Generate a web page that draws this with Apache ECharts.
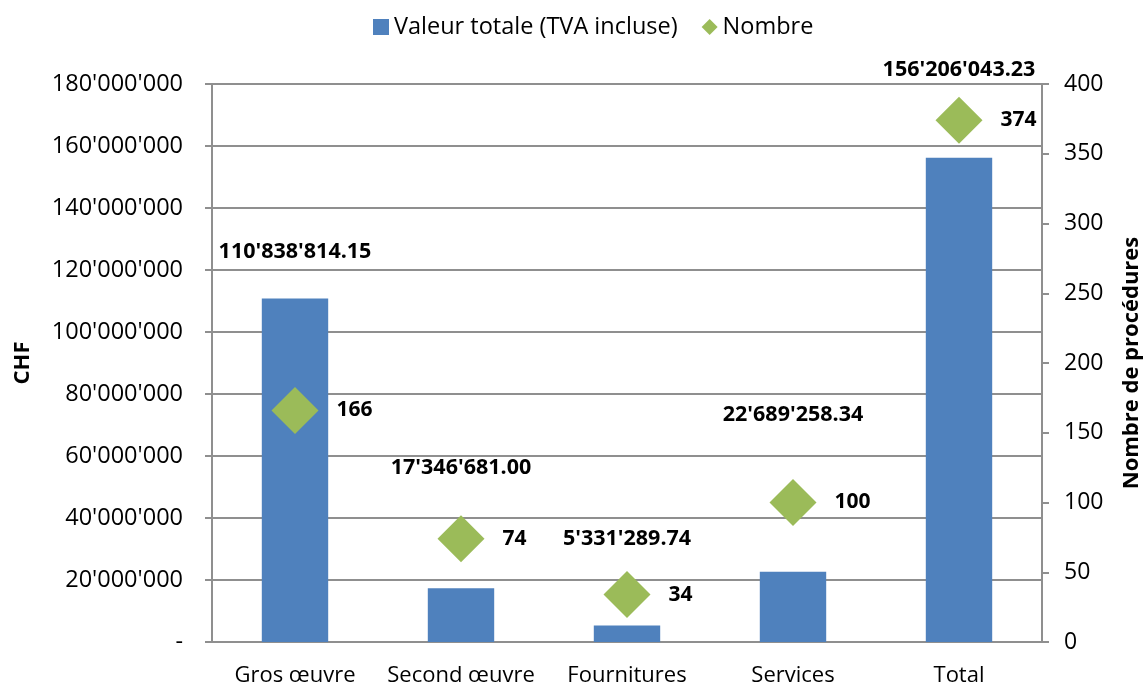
<!DOCTYPE html>
<html>
<head>
<meta charset="utf-8">
<script src="https://cdn.jsdelivr.net/npm/echarts@6/dist/echarts.min.js"></script>
<style>
  html, body { margin: 0; padding: 0; background: #fff; }
  #chart { width: 1145px; height: 686px; }
</style>
</head>
<body>
<div id="chart"></div>
<script>
// données
var categories = ['Gros œuvre', 'Second œuvre', 'Fournitures', 'Services', 'Total'];
var valeurs = [110838814.15, 17346681.00, 5331289.74, 22689258.34, 156206043.23];
var nombres = [166, 74, 34, 100, 374];

// écart des étiquettes au-dessus des barres (placées à la main dans l'original)
var labelDistance = [36, 109, 76, 146, 77];

function apostrophes(n, dec) {
  var parts = n.toFixed(dec).split('.');
  parts[0] = parts[0].replace(/\B(?=(\d{3})+(?!\d))/g, "'");
  return parts.join('.');
}

var font = 'Open Sans';
var gris = '#8f8f8f';

var chart = echarts.init(document.getElementById('chart'));

var option = {
  animation: false,
  textStyle: { fontFamily: font, color: '#000' },
  legend: {
    top: 10,
    left: 368,
    itemGap: 24,
    itemWidth: 16,
    itemHeight: 16,
    textStyle: { fontSize: 23.5, fontFamily: font, color: '#000' },
    data: [
      { name: 'Valeur totale (TVA incluse)', icon: 'rect' },
      { name: 'Nombre', icon: 'diamond' }
    ]
  },
  grid: { left: 212, right: 103, top: 84, bottom: 44, outerBoundsMode: 'none' },
  xAxis: {
    type: 'category',
    data: categories,
    axisLine: { lineStyle: { color: gris, width: 2 } },
    axisTick: { show: false },
    axisLabel: { fontSize: 22, color: '#000', margin: 23, interval: 0 }
  },
  yAxis: [
    {
      type: 'value',
      min: 0,
      max: 180000000,
      interval: 20000000,
      name: 'CHF',
      nameLocation: 'middle',
      nameGap: 178,
      nameTextStyle: { fontSize: 22, fontWeight: 'bold', color: '#000' },
      axisLine: { show: true, lineStyle: { color: gris, width: 2 } },
      axisTick: { show: true, length: 7, lineStyle: { color: gris, width: 2 } },
      splitLine: { lineStyle: { color: gris, width: 2 } },
      axisLabel: {
        fontSize: 23.5,
        color: '#000',
        margin: 29,
        formatter: function (v) { return v === 0 ? '-' : apostrophes(v, 0); }
      }
    },
    {
      type: 'value',
      min: 0,
      max: 400,
      interval: 50,
      name: 'Nombre de procédures',
      nameLocation: 'middle',
      nameGap: 79,
      nameTextStyle: { fontSize: 22, fontWeight: 'bold', color: '#000' },
      axisLine: { show: true, lineStyle: { color: gris, width: 2 } },
      axisTick: { show: true, length: 7, lineStyle: { color: gris, width: 2 } },
      splitLine: { show: false },
      axisLabel: { fontSize: 23, color: '#000', margin: 22 }
    }
  ],
  series: [
    {
      name: 'Valeur totale (TVA incluse)',
      type: 'bar',
      yAxisIndex: 0,
      barWidth: '40%',
      itemStyle: { color: '#4F81BD' },
      label: {
        show: true,
        position: 'top',
        fontSize: 21.5,
        fontWeight: 'bold',
        color: '#000',
        formatter: function (p) { return apostrophes(p.value, 2); }
      },
      data: valeurs.map(function (v, i) {
        return { value: v, label: { distance: labelDistance[i] } };
      })
    },
    {
      name: 'Nombre',
      type: 'scatter',
      yAxisIndex: 1,
      symbol: 'diamond',
      symbolSize: 47,
      itemStyle: { color: '#9BBB59', opacity: 1 },
      label: {
        show: true,
        position: 'right',
        distance: 18,
        fontSize: 21,
        fontWeight: 'bold',
        color: '#000'
      },
      data: nombres
    }
  ]
};

chart.setOption(option);
</script>
</body>
</html>
